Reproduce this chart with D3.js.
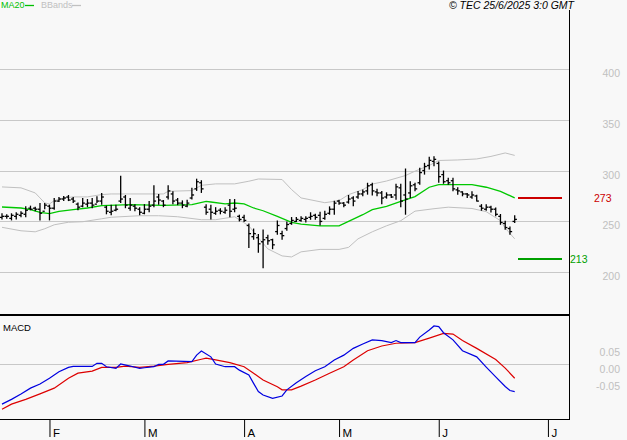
<!DOCTYPE html>
<html>
<head>
<meta charset="utf-8">
<script src="https://cdn.jsdelivr.net/npm/d3@7"></script>
<style>
body { margin: 0; background: #f8f8f8; }
svg { display: block; font-family: "Liberation Sans", Arial, sans-serif; }
</style>
</head>
<body>
<svg></svg>
<script>
// daily bars, 20 Jan 2025 .. 24 Jun 2025 (trading days)
const open = [254,255,253,255,256,257,263,263,262,260,
  265,263,270,272,274,272,267,265,267,268,
  267,270,264,259,261,270,274,263,265,262,
  258,262,266,274,270,274,277,271,268,265,
  273,282,288,264,262,258,261,259,266,262,
  255,254,246,235,234,230,234,232,240,238,
  243,248,250,251,252,254,256,256,253,258,
  262,270,268,269,273,274,277,280,286,279,
  278,274,276,276,283,276,278,286,288,300,
  305,309,307,296,290,290,281,279,277,274,
  275,265,262,264,262,255,248,243,250];
const high = [258,257,258,259,260,265,265.5,264.5,268,268,
  266.5,273,274,275,276,274,268.7,273,272,273,
  274.7,278,265.5,266.5,266.5,295,276,273,267,264,
  267,270,285.5,277,271,285.5,279.6,273,270.7,271.4,
  283,292,290.5,267,266.5,264,263,264,272,272,
  256.6,256.6,248,243,237.7,242,236.8,233,251,240.8,
  250,254.3,254.3,255,255,259,257.6,259.5,260.5,264.8,
  270.4,271.4,269,276,274.7,280,281.3,288,288,282,
  280,278.6,277,287,287,302,289.5,288,302.7,307.6,
  313.6,314,309,300,293,293,283.6,279.6,278,279.6,
  276.3,267,267,265.5,263.8,257.3,250.7,245,256];
const low = [252,252.6,251,252,254,254,261,260,251,262,
  251,261.5,269,270,270,268,261,264,264,263,
  268,266.5,257,256,260,268,263,260.5,260,256,
  257,259,264,266.5,264,271.5,267,266,263,264,
  271.5,280,278,256.5,252,256.5,257,257.5,254,259,
  250,249.4,224,232,219.2,204,227,222.7,236.8,232,
  240.8,246.7,249.4,249.7,249,251.6,251.6,246,251.6,256.6,
  256.6,266.5,264,267.5,264.8,272.4,274.7,276.3,275.6,274.7,
  267,272.4,273,271.4,264,256.6,273,279.6,286,296,
  301,304.3,288,287,286,279.6,276.3,274.7,273,272.4,
  269.7,260.5,260.5,258.8,255,246.7,241.8,236.8,248.4];
const close = [255,255,256,257,258,261,262,262,258,266,
  263,270,272,273,271,270,264,268,268,266,
  270,274,260,260,262,272,266,266,263,259,
  262,265,270,271,266,280,270,268,266,268,
  276,289,282,259,259,260,260,261,260,263,
  252,251,238,238,228,232,231,227,246,236,
  247,251,252,253,253,255,254,250,257,262,
  268,268,266,272,270,277,279,285,280,278,
  273,276,274,284,270,272,285,282,298,304,
  310,311,294,289,288,282,280,277,276,276,
  270,263,264,262,257,249,244,240,252];

// indicator lines: [bar index, value]
const ma20 = [[0,264.2],[4,263.2],[6,261.5],[8,258.9],[10,257.6],[12,259.9],[15,261.5],[18,263.2],
  [21,265.5],[27,266.5],[34,265.8],[40,266.5],[43,269.7],[44,269.1],[47,267.2],[49,268.1],[51,267.2],
  [53,263.2],[55,260.5],[58,254.9],[61,249],[63,247.4],[67,245.7],[71,245.7],[73,250],[76,256.6],
  [78,261.5],[81,264.8],[84,269.7],[87,274.4],[90,283.6],[92,286.2],[95,286.2],[99,286.2],
  [102,283.6],[105,279.6],[108,273.1]];
const bbUpper = [[0,283.9],[4,283.0],[7,278.0],[8,273.1],[9,268.2],[10,267.2],[11,270.4],[13,273.1],
  [15,274.1],[18,274.1],[21,276.4],[23,277.0],[27,277.0],[34,277.0],[35,279.6],[40,280.3],[42,285.5],
  [45,286.9],[49,286.9],[52,289.5],[54,291.7],[59,291.2],[61,281.3],[63,273.1],[68,268.4],[71,270.4],
  [73,276.3],[76,281.3],[78,286.7],[81,289.7],[85,295.1],[87,299.4],[90,305.0],[92,309.9],[96,310.4],
  [100,311.4],[103,313.9],[106,317.3],[108,314.9]];
const bbLower = [[0,244.2],[4,240.8],[7,239.8],[9,242.8],[11,246.7],[14,249.2],[17,249.7],[21,252.6],
  [23,254.1],[29,255.6],[33,255.6],[37,254.6],[42,251.7],[45,251.7],[49,254.6],[52,245.7],[54,233.9],
  [56,223.0],[59,216.1],[61,215.1],[63,220.1],[67,222.5],[71,222.5],[73,224.5],[75,232.9],[78,239.8],
  [81,245.7],[84,250.7],[87,260.1],[91,262.5],[94,264.0],[99,262.7],[102,259.6],[105,250.7],
  [106,243.5],[108,232.9]];
const macd = [[0,-0.118],[2,-0.104],[4,-0.088],[6,-0.071],[8,-0.059],[10,-0.042],[12,-0.023],[14,-0.010],
  [15,-0.007],[19,-0.007],[20,0.002],[21,0.002],[22,-0.008],[24,-0.013],[25,0.000],[27,-0.006],
  [29,-0.013],[30,-0.011],[32,-0.008],[33,-0.001],[34,-0.001],[35,0.009],[40,0.007],[41,0.026],
  [42,0.038],[44,0.021],[45,0.000],[47,-0.008],[49,-0.008],[50,-0.018],[52,-0.032],[53,-0.057],
  [54,-0.081],[55,-0.091],[57,-0.101],[59,-0.094],[60,-0.076],[62,-0.055],[64,-0.037],[66,-0.020],
  [68,-0.008],[70,0.012],[72,0.026],[74,0.046],[76,0.059],[78,0.071],[80,0.069],[82,0.063],[83,0.069],
  [84,0.063],[87,0.063],[88,0.079],[90,0.100],[91,0.112],[92,0.110],[93,0.092],[95,0.071],[97,0.039],
  [100,0.021],[102,-0.009],[104,-0.038],[106,-0.066],[107,-0.078],[108,-0.081]];
const signal = [[0,-0.133],[2,-0.118],[5,-0.104],[8,-0.088],[11,-0.071],[14,-0.042],[16,-0.027],
  [19,-0.021],[21,-0.010],[24,-0.010],[26,-0.006],[29,-0.010],[32,-0.006],[35,-0.001],[39,0.004],
  [42,0.014],[43,0.017],[45,0.012],[48,0.004],[51,-0.008],[53,-0.027],[55,-0.047],[58,-0.067],
  [59,-0.076],[61,-0.076],[63,-0.065],[66,-0.047],[69,-0.027],[72,-0.008],[74,0.012],[77,0.039],
  [80,0.053],[83,0.061],[87,0.063],[90,0.076],[93,0.090],[95,0.088],[97,0.069],[100,0.046],
  [104,0.013],[106,-0.012],[108,-0.042]];

const monthLabels = ['F','M','A','M','J','J'];
const monthIdx = [10,30,51,71,92,115];
const priceTicks = [200,250,300,350,400];
const macdTicks = [0.05,0,-0.05];
const macdTickLabels = ['0.05','0.00','-0.05'];
const resistance = 273;
const support = 213;

const W = 627, H = 440;
const plotRight = 569;

const svg = d3.select('svg').attr('width', W).attr('height', H);

const x = d3.scaleLinear().domain([0, 108]).range([2, 514.7]);
const y = d3.scaleLinear().domain([200, 400]).range([272.3, 68.8]);
const ym = d3.scaleLinear().domain([-0.05, 0.05]).range([381, 347]);
const px = v => Math.round(v) + 0.5;

// grid lines
svg.append('g').selectAll('line')
   .data(priceTicks).enter().append('line')
   .attr('x1', 0).attr('x2', plotRight)
   .attr('y1', d => px(y(d))).attr('y2', d => px(y(d)))
   .attr('stroke', '#c8c8c8');
svg.append('line')
   .attr('x1', 0).attr('x2', plotRight)
   .attr('y1', px(ym(0))).attr('y2', px(ym(0)))
   .attr('stroke', '#c8c8c8');

// price labels
svg.append('g').selectAll('text')
   .data(priceTicks).enter().append('text')
   .attr('x', 620).attr('y', d => Math.round(y(d)) + 8)
   .attr('text-anchor', 'end')
   .attr('font-size', 10.5)
   .attr('fill', '#c0c0c0')
   .text(d => d);
svg.append('g').selectAll('text')
   .data(macdTicks).enter().append('text')
   .attr('x', 620).attr('y', d => Math.round(ym(d)) + 8.5)
   .attr('text-anchor', 'end')
   .attr('font-size', 10.5)
   .attr('fill', '#c0c0c0')
   .text((d, i) => macdTickLabels[i]);

// bollinger bands + MA20
const line = d3.line().x(d => x(d[0])).y(d => y(d[1]));
svg.append('path').datum(bbUpper).attr('d', line)
   .attr('fill', 'none').attr('stroke', '#c0c0c0').attr('stroke-width', 1);
svg.append('path').datum(bbLower).attr('d', line)
   .attr('fill', 'none').attr('stroke', '#c0c0c0').attr('stroke-width', 1);
svg.append('path').datum(ma20).attr('d', line)
   .attr('fill', 'none').attr('stroke', '#00c800').attr('stroke-width', 1.3);

// OHLC bars
const bars = svg.append('g').attr('stroke', '#000').attr('stroke-width', 1.3);
const idx = d3.range(close.length);
bars.selectAll('.hl').data(idx).enter().append('line')
    .attr('x1', i => x(i)).attr('x2', i => x(i))
    .attr('y1', i => y(high[i])).attr('y2', i => y(low[i]));
bars.selectAll('.op').data(idx).enter().append('line')
    .attr('x1', i => x(i) - 2.2).attr('x2', i => x(i))
    .attr('y1', i => y(open[i])).attr('y2', i => y(open[i]));
bars.selectAll('.cl').data(idx).enter().append('line')
    .attr('x1', i => x(i)).attr('x2', i => x(i) + 2.2)
    .attr('y1', i => y(close[i])).attr('y2', i => y(close[i]));

// resistance / support
svg.append('line').attr('x1', 518).attr('x2', 562)
   .attr('y1', y(resistance)).attr('y2', y(resistance))
   .attr('stroke', '#cc0000').attr('stroke-width', 2);
svg.append('text').attr('x', 594).attr('y', y(resistance) + 4)
   .attr('font-size', 10.5).attr('fill', '#cc0000').text(resistance);
svg.append('line').attr('x1', 518).attr('x2', 562)
   .attr('y1', y(support)).attr('y2', y(support))
   .attr('stroke', '#00a000').attr('stroke-width', 2);
svg.append('text').attr('x', 570).attr('y', y(support) + 4)
   .attr('font-size', 10.5).attr('fill', '#00a000').text(support);

// MACD
const mline = d3.line().x(d => x(d[0])).y(d => ym(d[1]));
svg.append('path').datum(signal).attr('d', mline)
   .attr('fill', 'none').attr('stroke', '#dd0000').attr('stroke-width', 1.2);
svg.append('path').datum(macd).attr('d', mline)
   .attr('fill', 'none').attr('stroke', '#0000e0').attr('stroke-width', 1.2);
svg.append('text').attr('x', 3).attr('y', 331)
   .attr('font-size', 9.5).attr('fill', '#000').text('MACD');

// frame
svg.append('line').attr('x1', 0).attr('x2', plotRight).attr('y1', 315).attr('y2', 315)
   .attr('stroke', '#000').attr('stroke-width', 2);
svg.append('line').attr('x1', 0).attr('x2', plotRight).attr('y1', 419.5).attr('y2', 419.5)
   .attr('stroke', '#000');
svg.append('line').attr('x1', plotRight + 0.5).attr('x2', plotRight + 0.5).attr('y1', 10).attr('y2', 420)
   .attr('stroke', '#000');

// month axis
const xAxis = svg.append('g')
   .attr('transform', 'translate(0,419)')
   .call(d3.axisBottom(x).tickValues(monthIdx).tickSize(18).tickFormat((d, i) => monthLabels[i]));
xAxis.select('.domain').remove();
xAxis.selectAll('line').attr('stroke', '#000');
xAxis.selectAll('text')
   .attr('x', 3).attr('y', 18).attr('dy', 0)
   .attr('text-anchor', 'start')
   .attr('font-size', 11.5)
   .attr('font-family', '"Liberation Sans", Arial, sans-serif')
   .attr('fill', '#000');

// legend + stamp
svg.append('text').attr('x', 1).attr('y', 8).attr('font-size', 9).attr('fill', '#00c000').text('MA20');
svg.append('line').attr('x1', 25).attr('x2', 34).attr('y1', 5.5).attr('y2', 5.5)
   .attr('stroke', '#00c000').attr('stroke-width', 1.3);
svg.append('text').attr('x', 41).attr('y', 8).attr('font-size', 9).attr('fill', '#c0c0c0').text('BBands');
svg.append('line').attr('x1', 72).attr('x2', 81).attr('y1', 5.5).attr('y2', 5.5)
   .attr('stroke', '#c0c0c0').attr('stroke-width', 1.3);
svg.append('text').attr('x', 574).attr('y', 9).attr('text-anchor', 'end')
   .attr('font-size', 10.5).attr('font-style', 'italic').attr('fill', '#000')
   .text('© TEC 25/6/2025 3:0 GMT');
</script>
</body>
</html>
